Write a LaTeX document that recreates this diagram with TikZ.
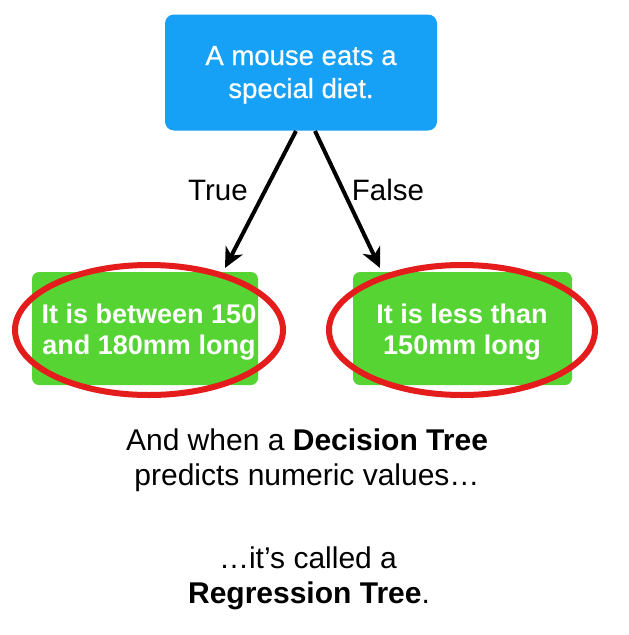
\documentclass[tikz,border=0pt]{standalone}
\usepackage{fontspec}
\setmainfont{Liberation Sans}
\newfontfamily\medfont[FakeBold=0.6]{Liberation Sans}
\usetikzlibrary{arrows.meta}
\definecolor{boxblue}{RGB}{22,160,246}
\definecolor{boxgreen}{RGB}{86,212,52}
\definecolor{ringred}{RGB}{228,28,28}
\tikzset{
  blubox/.style={fill=boxblue, rounded corners=9pt, minimum width=272pt, minimum height=116pt, inner sep=0pt},
  grnbox/.style={fill=boxgreen, rounded corners=7pt, minimum height=113pt, inner sep=0pt},
  blutxt/.style={text=white, anchor=base, inner sep=0pt, font=\medfont\fontsize{27.5}{33}\selectfont},
  grntxt/.style={text=white, anchor=base, inner sep=0pt, font=\bfseries\fontsize{27}{32}\selectfont},
  arr/.style={line width=4pt, -{Stealth[length=20pt,width=19pt,inset=6pt]}},
  lbl/.style={font=\fontsize{29.5}{32}\selectfont, anchor=base, inner sep=0pt},
  body/.style={font=\fontsize{30}{35}\selectfont, anchor=base, inner sep=0pt}
}
\begin{document}
\begin{tikzpicture}[x=1pt,y=-1pt]
\useasboundingbox (0,0) rectangle (629,635);
\fill[white] (0,0) rectangle (629,635);
% top box
\node[blubox] (root) at (301,72.5) {};
\node[blutxt] (rootA) at (301,65) {A mouse eats a};
\node[blutxt] (rootB) at (301,98) {special diet.};
% green boxes
\node[grnbox, minimum width=226pt] (left) at (145,328.5) {};
\node[grnbox, minimum width=219pt] (right) at (462.5,328.5) {};
\node[grntxt] (leftA) at (149,323) {It is between 150};
\node[grntxt] (leftB) at (149,354) {and 180mm long};
\node[grntxt] (rightA) at (462,323) {It is less than};
\node[grntxt] (rightB) at (462,354) {150mm long};
% rings
\draw[draw=ringred, line width=6pt] (149,330) ellipse [x radius=134pt, y radius=65pt];
\draw[draw=ringred, line width=6pt] (462,330) ellipse [x radius=133pt, y radius=65pt];
% arrows
\coordinate (s1) at (296,131);
\coordinate (t1) at (225,268);
\coordinate (s2) at (315,131);
\coordinate (t2) at (380,268);
\draw[arr] (s1) -- (t1);
\draw[arr] (s2) -- (t2);
\node[lbl] (true) at (218,200) {True};
\node[lbl] (false) at (388,200) {False};
% bottom text
\node[body] (txt1) at (307,450) {And when a \textbf{Decision Tree}};
\node[body] (txt2) at (307,485) {predicts numeric values…};
\node[body] (txt3) at (308,568) {…it’s called a};
\node[body] (txt4) at (309,603) {\textbf{Regression Tree}.};
\end{tikzpicture}
\end{document}
